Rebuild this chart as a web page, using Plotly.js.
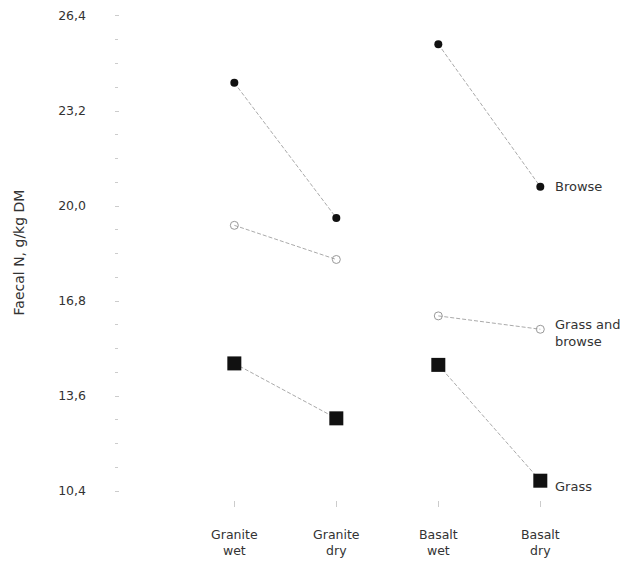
<!DOCTYPE html>
<html>
<head>
<meta charset="utf-8">
<script src="https://cdn.plot.ly/plotly-3.0.1.min.js"></script>
<style>html,body{margin:0;padding:0;background:#fff;}#chart{width:643px;height:569px;}</style>
</head>
<body>
<div id="chart"></div>
<script>
var categories = ["Granite<br>wet", "Granite<br>dry", "Basalt<br>wet", "Basalt<br>dry"];
var browse = [24.15, 19.6, 25.45, 20.65];
var grassAndBrowse = [19.35, 18.2, 16.3, 15.85];
var grass = [14.7, 12.85, 14.65, 10.75];
var yTickVals = [10.4, 13.6, 16.8, 20.0, 23.2, 26.4];
var yTickText = ["10,4", "13,6", "16,8", "20,0", "23,2", "26,4"];
var seriesLabels = ["Browse", "Grass and<br>browse", "Grass"];

var xIdx = categories.map(function (c, i) { return i; });
var lineStyle = {color: "#aaaaaa", width: 1, dash: "4px,2px"};
var font = "'DejaVu Sans', sans-serif";

// Break the line between the granite pair and the basalt pair
function withGap(arr) { return [arr[0], arr[1], null, arr[2], arr[3]]; }
var xGap = withGap(xIdx);

var markers = [
  {symbol: "circle", size: 8, color: "#111"},
  {symbol: "circle-open", size: 8, color: "#999", line: {width: 1, color: "#999"}},
  {symbol: "square", size: 14, color: "#111"}
];
var series = [browse, grassAndBrowse, grass];

var traces = series.map(function (s, i) {
  return {x: xGap, y: withGap(s), mode: "lines+markers", line: lineStyle,
    connectgaps: false, marker: markers[i]};
});

var annotations = series.map(function (s, i) {
  return {x: 3, y: s[3], xref: "x", yref: "y", text: seriesLabels[i],
    showarrow: false, xanchor: "left", yanchor: i === 1 ? "top" : "middle",
    xshift: 13, yshift: i === 1 ? 14 : (i === 2 ? -6 : 0), align: "left",
    font: {family: font, size: 13, color: "#333"}};
});

var layout = {
  width: 643, height: 569,
  margin: {l: 115, r: 16, t: 5, b: 69},
  paper_bgcolor: "#fff", plot_bgcolor: "#fff",
  showlegend: false,
  font: {family: font, size: 12.5, color: "#333"},
  xaxis: {
    range: [-1.17, 3.85], showgrid: false, zeroline: false, showline: false,
    tickvals: xIdx, ticktext: categories,
    ticks: "outside", ticklen: 6, tickcolor: "#ccc", tickwidth: 1,
    ticklabelstandoff: 17,
    tickfont: {family: font, size: 12.5, color: "#333"}
  },
  yaxis: {
    range: [10.1, 26.77], showgrid: false, zeroline: false, showline: false,
    tickvals: yTickVals, ticktext: yTickText,
    ticks: "inside", ticklen: 4, tickcolor: "#ccc", tickwidth: 1,
    ticklabelstandoff: 28,
    minor: {dtick: 0.8, tick0: 10.4, ticks: "inside", ticklen: 3, tickcolor: "#ccc"},
    tickfont: {family: font, size: 12.5, color: "#333"},
    title: {text: "Faecal N, g/kg DM", font: {family: font, size: 14, color: "#333"}, standoff: 30}
  },
  annotations: annotations
};

Plotly.newPlot("chart", traces, layout, {displayModeBar: false, staticPlot: true});
</script>
</body>
</html>
